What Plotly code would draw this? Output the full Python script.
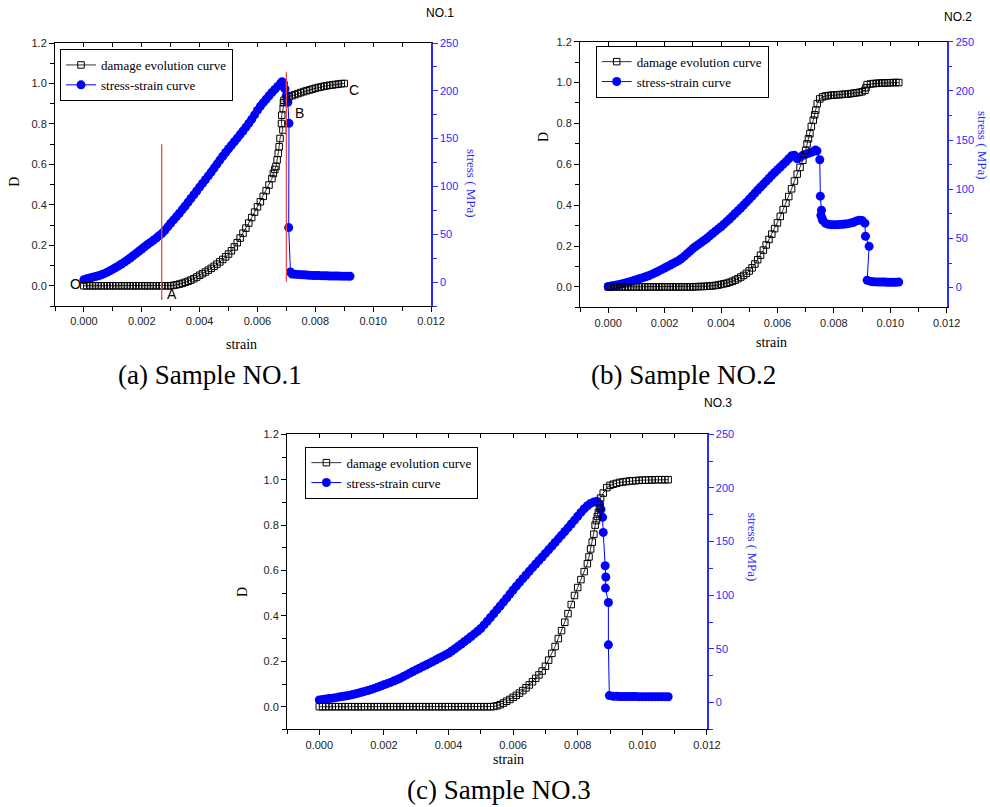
import plotly.graph_objects as go

# ---------------- data (strain, value) ----------------
damage_1 = [
(0.0000,0.0),(0.0001,0.0),(0.0002,0.0),(0.0003,0.0),(0.0004,0.0),(0.0005,0.0),(0.0006,0.0),(0.0007,0.0),
(0.0008,0.0),(0.0009,0.0),(0.0010,0.0),(0.0011,0.0),(0.0012,0.0),(0.0013,0.0),(0.0014,0.0),(0.0015,0.0),
(0.0016,0.0),(0.0017,0.0),(0.0018,0.0),(0.0019,0.0),(0.0020,0.0),(0.0021,0.0),(0.0022,0.0),(0.0023,0.0),
(0.0024,0.0),(0.0025,0.0),(0.0026,0.0),(0.0027,0.0),(0.0028,0.0),(0.0029,0.0),(0.0030,0.0),
(0.0031,0.002),(0.0032,0.005),(0.0033,0.008),(0.0034,0.012),(0.0035,0.017),(0.0036,0.022),(0.0037,0.028),
(0.0038,0.035),(0.0039,0.043),(0.0040,0.052),(0.0041,0.060),(0.0042,0.068),(0.0043,0.077),(0.0044,0.086),
(0.0045,0.096),(0.0046,0.107),(0.0047,0.118),(0.0048,0.130),(0.0049,0.143),(0.0050,0.157),(0.0051,0.173),
(0.0052,0.192),(0.0053,0.213),(0.0054,0.236),(0.0055,0.260),(0.0056,0.285),(0.0057,0.310),(0.0058,0.337),
(0.0059,0.364),(0.0060,0.390),(0.0061,0.415),(0.0062,0.442),(0.0063,0.470),(0.0064,0.498),(0.0065,0.530),
(0.00655,0.555),(0.0066,0.575),(0.00664,0.590),(0.00668,0.622),(0.00672,0.655),(0.00675,0.687),
(0.00678,0.728),(0.00688,0.770),(0.00683,0.802),(0.00684,0.843),(0.00689,0.876),(0.00690,0.905),
(0.00692,0.917),(0.0070,0.925),(0.0071,0.935),(0.0072,0.940),(0.0073,0.945),(0.0074,0.950),(0.0075,0.955),
(0.0076,0.960),(0.0077,0.964),(0.0078,0.968),(0.0079,0.972),(0.0080,0.976),(0.0081,0.980),(0.0082,0.983),
(0.0083,0.986),(0.0084,0.989),(0.0085,0.991),(0.0086,0.993),(0.0087,0.995),(0.0088,0.997),(0.0089,0.999),
(0.0090,1.0),
]
stress_1 = [
(0.0000,2.5),(0.0001,3.5),(0.0002,4.3),(0.0003,5.0),(0.0004,5.8),(0.0005,6.6),(0.0006,7.6),(0.0007,8.8),
(0.0008,10.2),(0.0009,11.8),(0.0010,13.5),(0.0011,15.2),(0.0012,17.0),(0.0013,18.9),(0.0014,20.9),
(0.0015,23.0),(0.0016,25.2),(0.0017,27.5),(0.0018,29.8),(0.0019,32.2),(0.0020,34.6),(0.0021,37.0),
(0.0022,39.3),(0.0023,41.5),(0.0024,43.7),(0.0025,46.0),(0.0026,48.4),(0.0027,51.0),(0.0028,54.2),
(0.0029,57.8),(0.0030,61.5),(0.0031,65.0),(0.0032,68.5),(0.0033,72.0),(0.0034,75.8),(0.0035,79.6),
(0.0036,83.5),(0.0037,87.4),(0.0038,91.3),(0.0039,95.3),(0.0040,99.3),(0.0041,103.2),(0.0042,107.0),
(0.0043,111.0),(0.0044,115.0),(0.0045,119.2),(0.0046,123.4),(0.0047,127.6),(0.0048,131.6),(0.0049,135.5),
(0.0050,139.4),(0.0051,143.1),(0.0052,146.8),(0.0053,150.5),(0.0054,154.2),(0.0055,158.0),(0.0056,162.0),
(0.0057,166.0),(0.0058,170.2),(0.0059,174.8),(0.0060,179.5),(0.0061,183.8),(0.0062,187.6),(0.0063,191.2),
(0.0064,194.8),(0.0065,198.2),(0.0066,201.5),(0.0067,204.6),(0.0068,207.8),(0.00685,209.5),(0.0069,208.0),
(0.00695,202.0),(0.0070,195.0),(0.00705,188.0),(0.00709,166.0),(0.00708,57.0),(0.00714,10.5),(0.0072,8.5),
(0.0073,8.2),(0.0074,8.0),(0.0075,7.8),(0.0076,7.6),(0.0077,7.4),(0.0078,7.2),(0.0079,7.0),(0.0080,6.9),
(0.0081,6.8),(0.0082,6.7),(0.0083,6.6),(0.0084,6.5),(0.0085,6.4),(0.0086,6.4),(0.0087,6.3),(0.0088,6.3),
(0.0089,6.2),(0.0090,6.2),(0.0091,6.2),(0.0092,6.1),
]
damage_2 = [
(0.0000,0.0),(0.0001,0.0),(0.0002,0.0),(0.0003,0.0),(0.0004,0.0),(0.0005,0.0),(0.0006,0.0),(0.0007,0.0),
(0.0008,0.0),(0.0009,0.0),(0.0010,0.0),(0.0011,0.0),(0.0012,0.0),(0.0013,0.0),(0.0014,0.0),(0.0015,0.0),
(0.0016,0.0),(0.0017,0.0),(0.0018,0.0),(0.0019,0.0),(0.0020,0.0),(0.0021,0.0),(0.0022,0.0),(0.0023,0.0),
(0.0024,0.0),(0.0025,0.0),(0.0026,0.0),(0.0027,0.0),(0.0028,0.0),(0.0029,0.0),(0.0030,0.0),
(0.0031,0.001),(0.0032,0.001),(0.0033,0.002),(0.0034,0.002),(0.0035,0.003),(0.0036,0.004),(0.0037,0.005),
(0.0038,0.007),(0.0039,0.009),(0.0040,0.012),(0.0041,0.015),(0.0042,0.018),(0.0043,0.022),(0.0044,0.027),
(0.0045,0.033),(0.0046,0.040),(0.0047,0.048),(0.0048,0.056),(0.0049,0.066),(0.0050,0.078),(0.0051,0.093),
(0.0052,0.112),(0.0053,0.133),(0.0054,0.155),(0.0055,0.180),(0.0056,0.205),(0.0057,0.232),(0.0058,0.258),
(0.0059,0.285),(0.0060,0.313),(0.0061,0.345),(0.0062,0.378),(0.0063,0.410),(0.0064,0.442),(0.0065,0.480),
(0.0066,0.518),(0.0067,0.552),(0.0068,0.585),(0.0069,0.620),(0.0070,0.668),(0.00705,0.700),(0.0071,0.725),
(0.00715,0.750),(0.0072,0.785),(0.00727,0.816),(0.00732,0.842),(0.00736,0.865),(0.00741,0.897),
(0.0075,0.920),(0.0076,0.930),(0.0077,0.934),(0.0078,0.936),(0.0079,0.938),(0.0080,0.939),(0.0081,0.940),
(0.0082,0.941),(0.0083,0.942),(0.0084,0.943),(0.0085,0.944),(0.0086,0.946),(0.0087,0.948),(0.0088,0.950),
(0.0089,0.952),(0.0090,0.955),(0.0091,0.962),(0.00914,0.975),(0.00918,0.990),(0.0093,0.993),(0.0094,0.995),
(0.0095,0.996),(0.0096,0.997),(0.0097,0.998),(0.0098,0.998),(0.0099,0.999),(0.0100,0.999),(0.0101,1.0),
(0.0102,1.0),(0.0103,1.0),
]
stress_2 = [
(0.0000,1.2),(0.0001,1.7),(0.0002,2.2),(0.0003,2.7),(0.0004,3.3),(0.0005,3.9),(0.0006,4.6),(0.0007,5.4),
(0.0008,6.3),(0.0009,7.2),(0.0010,8.1),(0.0011,9.0),(0.0012,9.9),(0.0013,10.8),(0.0014,11.8),(0.0015,12.9),
(0.0016,14.2),(0.0017,15.6),(0.0018,17.0),(0.0019,18.5),(0.0020,20.0),(0.0021,21.5),(0.0022,23.0),
(0.0023,24.5),(0.0024,26.0),(0.0025,27.5),(0.0026,29.6),(0.0027,32.0),(0.0028,34.5),(0.0029,37.1),
(0.0030,39.7),(0.0031,41.8),(0.0032,43.9),(0.0033,46.0),(0.0034,48.0),(0.0035,50.2),(0.0036,52.6),
(0.0037,55.0),(0.0038,57.4),(0.0039,59.7),(0.0040,61.9),(0.0041,64.5),(0.0042,67.1),(0.0043,69.8),
(0.0044,72.5),(0.0045,75.3),(0.0046,78.1),(0.0047,81.0),(0.0048,83.9),(0.0049,86.9),(0.0050,89.9),
(0.0051,93.0),(0.0052,96.1),(0.0053,99.2),(0.0054,102.3),(0.0055,105.2),(0.0056,108.2),(0.0057,111.2),
(0.0058,114.2),(0.0059,117.0),(0.0060,119.8),(0.0061,122.6),(0.0062,125.3),(0.0063,128.0),(0.0064,131.0),
(0.0065,134.0),(0.0066,134.5),(0.0067,131.0),(0.0068,132.5),(0.0069,134.5),(0.0070,135.5),(0.0071,136.5),
(0.0072,137.5),(0.0073,138.8),(0.00735,139.8),(0.0074,139.0),(0.0075,130.0),(0.00752,93.0),(0.00756,78.7),
(0.00754,73.6),(0.00758,70.5),(0.0076,68.5),(0.0077,65.5),(0.0078,64.4),(0.0079,64.0),(0.0080,64.0),
(0.0081,64.0),(0.0082,64.1),(0.0083,64.3),(0.0084,64.6),(0.0085,65.0),(0.0086,65.6),(0.0087,66.5),
(0.0088,67.8),(0.0089,68.5),(0.0090,68.3),(0.0091,65.5),(0.00912,52.2),(0.00925,42.0),(0.00918,7.5),
(0.0093,6.3),(0.0094,5.9),(0.0095,5.8),(0.0096,5.7),(0.0097,5.6),(0.0098,5.6),(0.0099,5.5),(0.0100,5.5),
(0.0101,5.5),(0.0102,5.5),(0.0103,5.6),
]
damage_3 = [
(0.0000,0.0),(0.0001,0.0),(0.0002,0.0),(0.0003,0.0),(0.0004,0.0),(0.0005,0.0),(0.0006,0.0),(0.0007,0.0),
(0.0008,0.0),(0.0009,0.0),(0.0010,0.0),(0.0011,0.0),(0.0012,0.0),(0.0013,0.0),(0.0014,0.0),(0.0015,0.0),
(0.0016,0.0),(0.0017,0.0),(0.0018,0.0),(0.0019,0.0),(0.0020,0.0),(0.0021,0.0),(0.0022,0.0),(0.0023,0.0),
(0.0024,0.0),(0.0025,0.0),(0.0026,0.0),(0.0027,0.0),(0.0028,0.0),(0.0029,0.0),(0.0030,0.0),(0.0031,0.0),
(0.0032,0.0),(0.0033,0.0),(0.0034,0.0),(0.0035,0.0),(0.0036,0.0),(0.0037,0.0),(0.0038,0.0),(0.0039,0.0),
(0.0040,0.0),(0.0041,0.0),(0.0042,0.0),(0.0043,0.0),(0.0044,0.0),(0.0045,0.0),(0.0046,0.0),(0.0047,0.0),
(0.0048,0.0),(0.0049,0.0),(0.0050,0.0),(0.0051,0.0),(0.0052,0.0),(0.0053,0.0),
(0.0054,0.001),(0.0055,0.004),(0.0056,0.009),(0.0057,0.016),(0.0058,0.024),(0.0059,0.032),(0.0060,0.041),
(0.0061,0.050),(0.0062,0.060),(0.0063,0.071),(0.0064,0.083),(0.0065,0.096),(0.0066,0.110),(0.0067,0.125),
(0.0068,0.140),(0.0069,0.157),(0.0070,0.178),(0.0071,0.205),(0.0072,0.235),(0.0073,0.265),(0.0074,0.300),
(0.0075,0.335),(0.0076,0.372),(0.0077,0.410),(0.0078,0.450),(0.0079,0.490),(0.0080,0.525),(0.0081,0.560),
(0.0082,0.595),(0.0083,0.630),(0.00835,0.660),(0.0084,0.695),(0.00845,0.725),(0.0085,0.760),
(0.00854,0.800),(0.00858,0.820),(0.00861,0.838),(0.00864,0.855),(0.00867,0.875),(0.00871,0.919),
(0.00879,0.941),(0.0089,0.965),(0.0090,0.975),(0.0091,0.980),(0.0092,0.984),(0.0093,0.988),(0.0094,0.990),
(0.0095,0.992),(0.0096,0.994),(0.0097,0.995),(0.0098,0.996),(0.0099,0.997),(0.0100,0.998),(0.0101,0.998),
(0.0102,0.999),(0.0103,0.999),(0.0104,1.0),(0.0105,1.0),(0.0106,1.0),(0.0107,1.0),(0.0108,1.0),
]
stress_3 = [
(0.0000,2.5),(0.0001,2.9),(0.0002,3.3),(0.0003,3.7),(0.0004,4.1),(0.0005,4.6),(0.0006,5.1),(0.0007,5.6),
(0.0008,6.1),(0.0009,6.6),(0.0010,7.2),(0.0011,8.0),(0.0012,8.8),(0.0013,9.6),(0.0014,10.4),(0.0015,11.3),
(0.0016,12.2),(0.0017,13.2),(0.0018,14.3),(0.0019,15.4),(0.0020,16.5),(0.0021,17.6),(0.0022,18.8),
(0.0023,20.0),(0.0024,21.3),(0.0025,22.7),(0.0026,24.2),(0.0027,25.8),(0.0028,27.4),(0.0029,29.0),
(0.0030,30.5),(0.0031,32.0),(0.0032,33.5),(0.0033,35.0),(0.0034,36.5),(0.0035,38.0),(0.0036,39.6),
(0.0037,41.2),(0.0038,42.8),(0.0039,44.4),(0.0040,46.0),(0.0041,48.1),(0.0042,50.2),(0.0043,52.4),
(0.0044,54.6),(0.0045,56.9),(0.0046,59.2),(0.0047,61.6),(0.0048,64.0),(0.0049,66.5),(0.0050,69.0),
(0.0051,72.4),(0.0052,75.8),(0.0053,79.3),(0.0054,82.8),(0.0055,86.4),(0.0056,90.0),(0.0057,93.6),
(0.0058,97.3),(0.0059,101.1),(0.0060,104.9),(0.0061,108.5),(0.0062,112.0),(0.0063,115.5),(0.0064,118.9),
(0.0065,122.3),(0.0066,125.7),(0.0067,129.1),(0.0068,132.4),(0.0069,135.7),(0.0070,139.0),(0.0071,142.4),
(0.0072,145.8),(0.0073,149.2),(0.0074,152.6),(0.0075,156.0),(0.0076,159.4),(0.0077,162.8),(0.0078,166.4),
(0.0079,170.0),(0.0080,173.6),(0.0081,177.2),(0.0082,180.6),(0.0083,183.4),(0.0084,185.6),(0.0085,187.0),
(0.0086,187.5),(0.00868,185.0),(0.00872,180.0),(0.00877,172.6),(0.00879,158.6),(0.00885,127.5),
(0.00887,117.0),(0.00886,106.7),(0.00895,93.3),(0.00895,53.8),(0.00898,6.5),(0.0091,5.9),(0.0092,5.8),
(0.0093,5.7),(0.0094,5.7),(0.0095,5.6),(0.0096,5.6),(0.0097,5.6),(0.0098,5.6),(0.0099,5.5),(0.0100,5.5),
(0.0101,5.5),(0.0102,5.5),(0.0103,5.5),(0.0104,5.5),(0.0105,5.5),(0.0106,5.5),(0.0107,5.5),(0.0108,5.4),
]

series_names = ["damage evolution curve", "stress-strain curve"]
sample_tags = ["NO.1", "NO.2", "NO.3"]
captions = ["(a) Sample NO.1", "(b) Sample NO.2", "(c) Sample NO.3"]
strain_range = [-0.001, 0.012]
d_range = [-0.1, 1.2]
stress_ranges = [[-25, 250], [-20, 250], [-25, 250]]

# sample 1 marks
red_line_strain = [0.00269, 0.00700]
red_line_d = [(-0.07, 0.70), (0.02, 1.056)]
point_labels = ["O", "A", "B", "C"]
point_strain = [-0.00028, 0.00303, 0.00747, 0.00935]
point_d = [0.01, -0.041, 0.855, 0.967]

# ---------------- layout geometry ----------------
W, H = 990, 807
BLUE = "#0000ff"
AXBLUE = "#2a2aff"
SANS = "Liberation Sans"
SERIF = "Liberation Serif"

def px(x):
    return x / W

def py(y):
    return 1 - y / H

panels = [
    dict(x="x", ys="y", yd="y2", xt="x4", legend="legend",
         box=(55, 431, 43, 306), leg=(60, 49),
         dlab=(15, 181.7), slab=(241.7, 344), stlab=(471, 183), tag=(440, 12.7), cap=(210, 375)),
    dict(x="x2", ys="y3", yd="y4", xt="x5", legend="legend2",
         box=(580, 946.7, 41.7, 307.3), leg=(595.7, 45.7),
         dlab=(543.3, 136.7), slab=(771.7, 342.7), stlab=(982, 145), tag=(958, 16.7), cap=(683, 375)),
    dict(x="x3", ys="y5", yd="y6", xt="x6", legend="legend3",
         box=(287, 706.9, 434.3, 729.4), leg=(305.4, 446.7),
         dlab=(242.4, 591.7), slab=(508.6, 759), stlab=(752, 546.7), tag=(717.6, 403), cap=(499, 790)),
]
data_sets = [(damage_1, stress_1), (damage_2, stress_2), (damage_3, stress_3)]

def key(a):
    return a[0] + "axis" + a[1:]

fig = go.Figure()
layout = dict(width=W, height=H, margin=dict(l=0, r=0, t=0, b=0, pad=0, autoexpand=False),
              paper_bgcolor="white", plot_bgcolor="white", showlegend=True)
annotations = []
shapes = []

def note(x, y, text, font, angle=0, xref="paper", yref="paper"):
    return dict(x=x, y=y, xref=xref, yref=yref, text=text, showarrow=False, textangle=angle,
                xanchor="center", yanchor="middle", font=font)

for i, (p, (dmg, st)) in enumerate(zip(panels, data_sets)):
    x0, x1, y0, y1 = p["box"]
    xdom = [px(x0), px(x1)]
    ydom = [py(y1), py(y0)]
    fig.add_trace(go.Scatter(
        x=[a for a, _ in dmg], y=[b for _, b in dmg], xaxis=p["x"], yaxis=p["yd"],
        mode="lines+markers", name=series_names[0], legend=p["legend"],
        line=dict(color="#333333", width=1),
        marker=dict(symbol="square-open", size=6.5, color="black", line=dict(width=1, color="black"))))
    fig.add_trace(go.Scatter(
        x=[a for a, _ in st], y=[b for _, b in st], xaxis=p["x"], yaxis=p["ys"],
        mode="lines+markers", name=series_names[1], legend=p["legend"],
        line=dict(color=BLUE, width=1),
        marker=dict(symbol="circle", size=9, color=BLUE, line=dict(width=0))))
    fig.add_trace(go.Scatter(x=[None], y=[None], xaxis=p["xt"], yaxis=p["ys"],
                             showlegend=False, hoverinfo="skip", mode="markers"))

    layout[key(p["x"])] = dict(
        domain=xdom, anchor=p["ys"], range=strain_range, tick0=0, dtick=0.002, tickformat=".3f",
        ticks="outside", ticklen=5, tickcolor="black", showline=True, linecolor="black", linewidth=1,
        showgrid=False, zeroline=False, automargin=False,
        tickfont=dict(family=SANS, size=11, color="#222222"),
        minor=dict(tick0=0, dtick=0.001, ticks="outside", ticklen=4, tickcolor="black"))
    layout[key(p["xt"])] = dict(
        overlaying=p["x"], anchor=p["ys"], side="top", range=strain_range, tick0=0, dtick=0.001,
        ticks="inside", ticklen=4, tickcolor="black", showticklabels=False, showline=True,
        linecolor="black", linewidth=1, showgrid=False, zeroline=False, automargin=False)
    layout[key(p["ys"])] = dict(
        domain=ydom, anchor=p["x"], side="right", range=stress_ranges[i], tick0=0, dtick=50,
        ticks="outside", ticklen=5, tickcolor=AXBLUE, showline=True, linecolor=AXBLUE, linewidth=1.5,
        showgrid=False, zeroline=False, automargin=False,
        tickfont=dict(family=SANS, size=11, color=AXBLUE),
        minor=dict(tick0=0, dtick=25, ticks="outside", ticklen=4, tickcolor=AXBLUE))
    layout[key(p["yd"])] = dict(
        overlaying=p["ys"], anchor=p["x"], side="left", range=d_range, tick0=0, dtick=0.2,
        tickformat=".1f", ticks="outside", ticklen=5, tickcolor="black", showline=True,
        linecolor="black", linewidth=1, showgrid=False, zeroline=False, automargin=False,
        tickfont=dict(family=SANS, size=11, color="#222222"),
        minor=dict(tick0=0, dtick=0.1, ticks="outside", ticklen=4, tickcolor="black"))
    layout[p["legend"]] = dict(
        x=px(p["leg"][0]), y=py(p["leg"][1]), xanchor="left", yanchor="top",
        bgcolor="white", bordercolor="black", borderwidth=1,
        font=dict(family=SERIF, size=13, color="black"), tracegroupgap=0, itemwidth=30)

    annotations += [
        note(px(p["dlab"][0]), py(p["dlab"][1]), "D", dict(family=SERIF, size=14, color="black"), -90),
        note(px(p["slab"][0]), py(p["slab"][1]), "strain", dict(family=SERIF, size=14, color="black")),
        note(px(p["stlab"][0]), py(p["stlab"][1]), "stress ( MPa)",
             dict(family=SERIF, size=13, color=AXBLUE), 90),
        note(px(p["tag"][0]), py(p["tag"][1]), sample_tags[i], dict(family=SANS, size=12, color="black")),
        note(px(p["cap"][0]), py(p["cap"][1]), captions[i], dict(family=SERIF, size=27, color="black")),
    ]

# red guide lines and point labels for sample 1
for xs, (ya, yb) in zip(red_line_strain, red_line_d):
    shapes.append(dict(type="line", xref="x", yref="y2", x0=xs, x1=xs, y0=ya, y1=yb,
                       line=dict(color="#f04848", width=1.3), layer="above"))
for t, xs, yv in zip(point_labels, point_strain, point_d):
    annotations.append(note(xs, yv, t, dict(family=SANS, size=14, color="black"), 0, "x", "y2"))

layout["annotations"] = annotations
layout["shapes"] = shapes
fig.update_layout(**layout)
fig.write_html("out.html", config={"displayModeBar": False},
               post_script="document.body.style.margin='0px';")
